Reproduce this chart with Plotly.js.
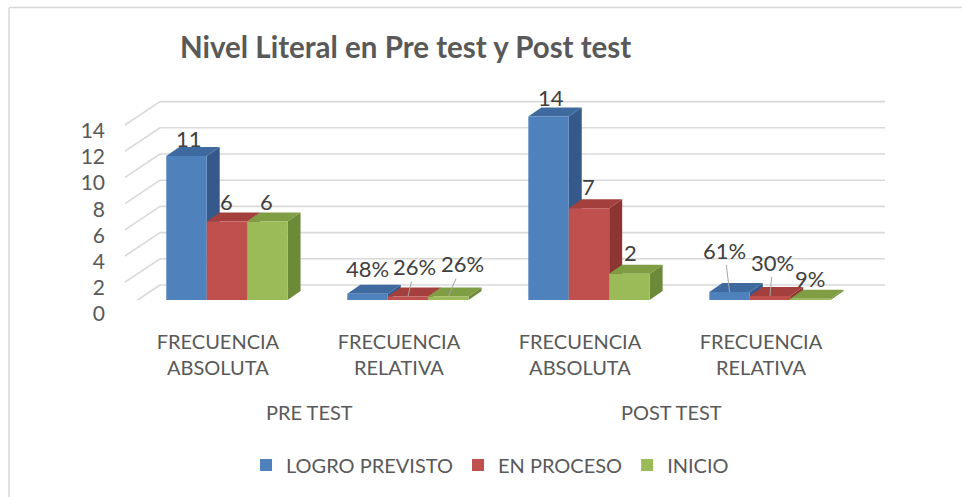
<!DOCTYPE html>
<html>
<head>
<meta charset="utf-8">
<script src="https://cdn.plot.ly/plotly-3.0.1.min.js"></script>
<style>html,body{margin:0;padding:0;background:#fff;}#chart{width:962px;height:497px;}</style>
</head>
<body>
<div id="chart"></div>
<script>
// ---- data ----
const categories = ['FRECUENCIA<br>ABSOLUTA', 'FRECUENCIA<br>RELATIVA', 'FRECUENCIA<br>ABSOLUTA', 'FRECUENCIA<br>RELATIVA'];
const groups = ['PRE TEST', 'POST TEST'];
const seriesNames = ['LOGRO PREVISTO', 'EN PROCESO', 'INICIO'];
const logroPrevisto = [11, 0.48, 14, 0.61];
const enProceso = [6, 0.26, 7, 0.30];
const inicio = [6, 0.26, 2, 0.09];
const logroLabels = ['11', '48%', '14', '61%'];
const procesoLabels = ['6', '26%', '7', '30%'];
const inicioLabels = ['6', '26%', '2', '9%'];
const yTicks = [0, 2, 4, 6, 8, 10, 12, 14];

// ---- style ----
const frontColors = ['#4f81bd', '#c0504d', '#9bbb59'];
const sideColors = ['#35598a', '#8c3533', '#6c8a38'];
const topColors = ['#3e6aa0', '#a33f3c', '#7f9e44'];
const textGrey = '#595959';
const FONT = 'Lato, "Open Sans", sans-serif';
// label offsets in pixels (text centre relative to bar front top centre), leader flag
const labelStyle = [
  [[2,-17,0],[0,-25,0],[2,-19,0],[-5,-42,1]],
  [[0,-20,0],[7,-30,1],[0,-22,0],[3,-34,1]],
  [[-1,-20,0],[14,-33,1],[1,-21,0],[0,-20,0]]
];

const W = 962, H = 497;
const M = {l: 127, r: 93, t: 90, b: 197};
const plotW = W - M.l - M.r, plotH = H - M.t - M.b;
const xRange = [-0.552, 3.547];
const yRange = [0, 16.03];
const pxX = plotW / (xRange[1] - xRange[0]);
const pxY = plotH / (yRange[1] - yRange[0]);
const bargap = 0.33;
const barW = (1 - bargap) / 3;
const depthDX = 13 / pxX, depthDY = 9 / pxY;     // bar depth
const backDY = 15 / pxY;                            // back wall offset
const wallFrontDY = -8.4 / pxY;                      // left wall front edge offset
const paperX = px => (px - M.l) / plotW;
const paperY = py => (M.t + plotH - py) / plotH;

const seriesVals = [logroPrevisto, enProceso, inicio];
const seriesLabels = [logroLabels, procesoLabels, inicioLabels];
const xIdx = categories.map((c, i) => i);

const traces = seriesVals.map((vals, k) => ({
  type: 'bar', name: seriesNames[k], x: xIdx, y: vals,
  marker: {color: frontColors[k], line: {width: 0}},
  hoverinfo: 'skip'
}));

const shapes = [];
// outer border (top and left)
shapes.push({type: 'line', xref: 'paper', yref: 'paper', x0: paperX(9), x1: paperX(1000), y0: paperY(7.5), y1: paperY(7.5), line: {color: '#d9d9d9', width: 1.5}, layer: 'below'});
shapes.push({type: 'line', xref: 'paper', yref: 'paper', x0: paperX(9), x1: paperX(9), y0: paperY(7.5), y1: paperY(600), line: {color: '#d9d9d9', width: 1.5}, layer: 'below'});
// back wall gridlines and left wall diagonals
yTicks.forEach(v => {
  shapes.push({type: 'line', xref: 'paper', yref: 'y', x0: paperX(160), x1: paperX(885), y0: v + backDY, y1: v + backDY, line: {color: '#d9d9d9', width: 1.6}, layer: 'below'});
  shapes.push({type: 'line', xref: 'paper', yref: 'y', x0: paperX(125), x1: paperX(160), y0: v + wallFrontDY, y1: v + backDY, line: {color: '#d9d9d9', width: 1.6}, layer: 'below'});
});
// 3D faces of bars (side then top), left to right
xIdx.forEach(i => {
  seriesVals.forEach((vals, k) => {
    const v = vals[i];
    const xc = i + (k - 1) * barW;
    const xl = xc - barW / 2, xr = xc + barW / 2;
    shapes.push({type: 'path', xref: 'x', yref: 'y', layer: 'below',
      path: `M${xr},${v} L${xr + depthDX},${v + depthDY} L${xr + depthDX},${depthDY} L${xr},0 Z`,
      fillcolor: sideColors[k], line: {width: 0}});
    shapes.push({type: 'path', xref: 'x', yref: 'y', layer: 'below',
      path: `M${xl},${v} L${xr},${v} L${xr + depthDX},${v + depthDY} L${xl + depthDX},${v + depthDY} Z`,
      fillcolor: topColors[k], line: {width: 0}});
  });
});

const annotations = [];
seriesVals.forEach((vals, k) => {
  vals.forEach((v, i) => {
    const st = labelStyle[k][i];
    annotations.push({x: i + (k - 1) * barW, y: v, xref: 'x', yref: 'y',
      text: seriesLabels[k][i], showarrow: true, ax: st[0], ay: st[1],
      arrowhead: 0, arrowwidth: 1, standoff: 0,
      arrowcolor: st[2] ? '#a6a6a6' : 'rgba(0,0,0,0)',
      font: {family: FONT, size: 22, color: '#404040'}});
  });
});
groups.forEach((g, j) => {
  annotations.push({x: j * 2 + 0.5, y: paperY(412), xref: 'x', yref: 'paper', text: g, xshift: -8,
    showarrow: false, yanchor: 'middle', font: {family: FONT, size: 20, color: textGrey}});
});

const layout = {
  width: W, height: H,
  margin: M,
  paper_bgcolor: '#ffffff', plot_bgcolor: 'rgba(0,0,0,0)',
  font: {family: FONT, color: textGrey},
  title: {text: '<b>Nivel Literal en Pre test y Post test</b>', xref: 'container', yref: 'container',
    x: 180 / W, xanchor: 'left', y: 1 - 48 / H, yanchor: 'middle',
    font: {family: FONT, size: 29.5, color: textGrey}},
  barmode: 'group', bargap: bargap, bargroupgap: 0,
  xaxis: {range: xRange, tickvals: xIdx, ticktext: categories, showgrid: false, zeroline: false,
    showline: false, ticks: '', ticklabelstandoff: 28, ticklabelshift: -9, fixedrange: true,
    tickfont: {family: FONT, size: 20, color: textGrey}},
  yaxis: {range: yRange, tickvals: yTicks, showgrid: false, zeroline: false, showline: false,
    ticks: '', ticklabelstandoff: 21, ticklabelshift: 14, fixedrange: true,
    tickfont: {family: FONT, size: 21, color: textGrey}},
  showlegend: true,
  legend: {orientation: 'h', x: paperX(490), xanchor: 'center', y: paperY(465), yanchor: 'middle',
    font: {family: FONT, size: 20, color: textGrey}, itemwidth: 30, traceorder: 'normal'},
  shapes: shapes,
  annotations: annotations
};

Plotly.newPlot('chart', traces, layout, {displayModeBar: false, staticPlot: true});
</script>
</body>
</html>
